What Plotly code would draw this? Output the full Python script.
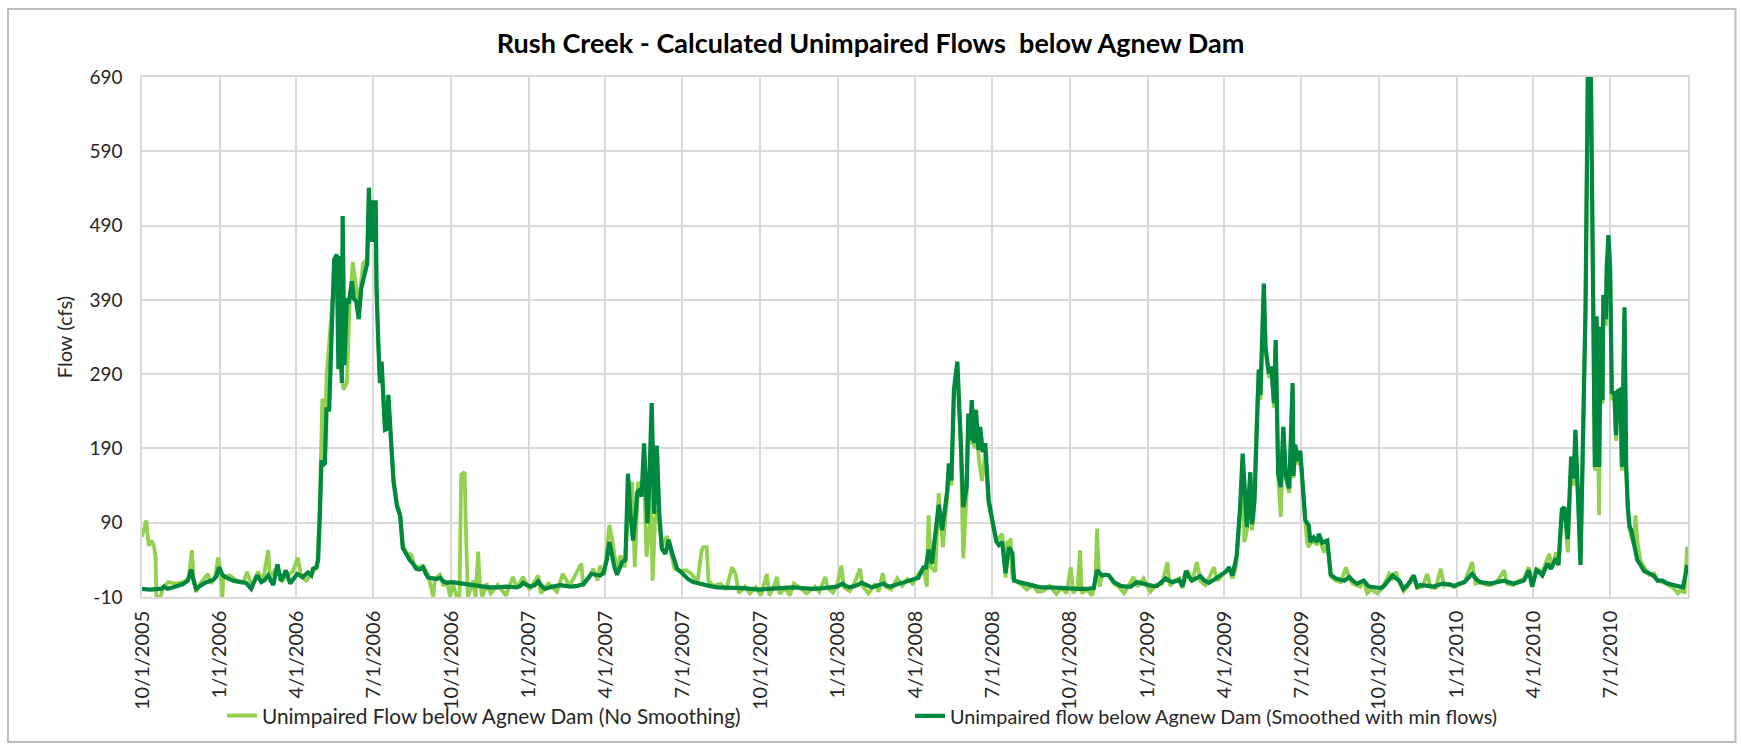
import pandas as pd
import plotly.graph_objects as go

# Day offsets are counted from the start of the 2006 water year (10/1/2005).
START = "2005-10-01"

# Smoothed series (with minimum flows), cfs
SMOOTH_DAYS = [
    0, 10, 20, 23, 26, 30, 37, 44, 48, 54, 58, 61, 64, 70, 76, 84, 88, 91, 95, 98,
    104, 108, 116, 123, 126, 129, 133, 136, 141, 145, 149, 152, 155, 160, 164, 167, 170, 175, 179, 183,
    190, 196, 200, 202, 206, 208, 210, 212, 214, 216, 218, 221, 224, 227, 230, 232, 234, 236, 237, 239,
    242, 244, 248, 250, 253, 256, 259, 263, 266, 268, 270, 272, 274, 276, 277, 279, 281, 283, 285, 287,
    289, 291, 294, 297, 301, 305, 308, 312, 316, 320, 324, 328, 332, 335, 338, 344, 348, 352, 356, 360,
    366, 372, 379, 387, 393, 399, 410, 419, 430, 443, 447, 450, 454, 458, 464, 468, 472, 476, 485, 494,
    500, 506, 514, 521, 526, 531, 536, 541, 545, 549, 552, 555, 558, 561, 564, 567, 571, 574, 577, 580,
    583, 585, 588, 590, 593, 595, 597, 599, 602, 605, 608, 611, 614, 618, 622, 626, 629, 632, 639, 645,
    651, 657, 663, 670, 679, 689, 699, 710, 720, 730, 740, 750, 760, 769, 780, 793, 805, 815, 821, 827,
    831, 836, 843, 850, 855, 862, 868, 876, 880, 884, 892, 898, 904, 910, 917, 923, 926, 929, 933, 937,
    941, 945, 948, 951, 953, 956, 959, 963, 967, 970, 974, 976, 978, 980, 983, 985, 988, 990, 993, 996,
    1000, 1006, 1009, 1012, 1016, 1020, 1024, 1028, 1030, 1036, 1045, 1053, 1061, 1073, 1085, 1093, 1105, 1116, 1124, 1128,
    1131, 1134, 1138, 1142, 1148, 1156, 1162, 1168, 1175, 1181, 1187, 1193, 1199, 1204, 1209, 1213, 1217, 1225, 1229, 1233,
    1236, 1240, 1245, 1250, 1255, 1260, 1267, 1274, 1280, 1284, 1288, 1293, 1297, 1300, 1303, 1305, 1309, 1311, 1314, 1317,
    1319, 1321, 1325, 1327, 1331, 1334, 1337, 1339, 1342, 1345, 1348, 1351, 1355, 1359, 1360, 1362, 1366, 1368, 1370, 1374,
    1378, 1380, 1384, 1388, 1390, 1394, 1400, 1404, 1410, 1415, 1420, 1426, 1430, 1435, 1443, 1449, 1456, 1463, 1467, 1471,
    1477, 1481, 1485, 1490, 1496, 1502, 1506, 1510, 1514, 1520, 1526, 1531, 1536, 1543, 1550, 1556, 1562, 1566, 1571, 1576,
    1581, 1587, 1593, 1600, 1609, 1614, 1620, 1626, 1632, 1635, 1638, 1642, 1647, 1650, 1654, 1660, 1664, 1670, 1673, 1677,
    1680, 1684, 1688, 1691, 1693, 1697, 1699, 1701, 1705, 1708, 1711, 1716, 1718, 1721, 1723, 1725, 1726, 1729, 1730, 1732,
    1734, 1736, 1739, 1741, 1743, 1746, 1748, 1751, 1753, 1755, 1757, 1759, 1762, 1764, 1766, 1770, 1774, 1780, 1786, 1790,
    1796, 1802, 1808, 1814, 1820, 1823, 1825,
]
SMOOTH_CFS = [
    1, 0, 1, 1, 4, 1, 3, 5, 7, 12, 27, 12, 1, 6, 10, 13, 18, 30, 20, 17,
    14, 12, 10, 9, 5, 1, 12, 19, 10, 13, 19, 12, 6, 34, 12, 18, 26, 8, 15, 21,
    17, 23, 19, 28, 30, 40, 99, 174, 168, 170, 245, 240, 345, 444, 451, 297, 449, 278, 503, 302,
    392, 385, 415, 392, 388, 364, 406, 425, 439, 541, 468, 524, 468, 524, 406, 335, 278, 307, 241, 215,
    216, 262, 203, 146, 113, 99, 56, 47, 40, 35, 28, 27, 30, 22, 16, 15, 14, 16, 11, 9,
    10, 9, 8, 6, 5, 4, 3, 3, 4, 3, 5, 9, 6, 4, 6, 11, 5, 1, 4, 6,
    5, 4, 5, 7, 14, 21, 20, 19, 22, 40, 64, 45, 30, 20, 28, 37, 40, 156, 100, 66,
    100, 131, 135, 125, 197, 140, 89, 138, 251, 102, 194, 102, 55, 48, 67, 50, 38, 28, 21, 14,
    10, 8, 7, 5, 3, 3, 3, 2, 1, 0, 1, 2, 2, 3, 2, 1, 2, 3, 4, 8,
    5, 3, 5, 9, 6, 3, 5, 8, 5, 4, 7, 9, 12, 13, 16, 30, 30, 54, 35, 75,
    114, 80, 110, 132, 170, 147, 269, 307, 201, 111, 138, 237, 201, 255, 197, 242, 188, 219, 185, 197,
    120, 84, 65, 60, 64, 22, 57, 49, 12, 10, 8, 5, 3, 3, 2, 1, 1, 1, 2, 26,
    22, 19, 20, 19, 10, 5, 4, 4, 10, 8, 7, 5, 5, 10, 15, 12, 10, 13, 4, 25,
    18, 12, 15, 18, 12, 9, 14, 19, 24, 30, 19, 46, 111, 183, 120, 84, 158, 88, 120, 260,
    296, 262, 412, 327, 291, 300, 251, 336, 156, 138, 219, 153, 136, 278, 153, 195, 173, 187, 152, 93,
    87, 64, 70, 64, 75, 63, 66, 20, 15, 14, 12, 17, 12, 8, 12, 4, 3, 2, 5, 10,
    19, 15, 12, 1, 8, 19, 4, 6, 6, 5, 4, 6, 8, 7, 5, 8, 10, 15, 21, 14,
    10, 9, 8, 10, 12, 10, 8, 10, 12, 18, 26, 4, 26, 24, 19, 35, 28, 42, 33, 108,
    111, 68, 179, 150, 215, 99, 33, 146, 382, 730, 730, 165, 368, 165, 354, 255, 397, 364, 434, 477,
    434, 264, 267, 208, 267, 269, 165, 380, 165, 110, 85, 80, 65, 55, 40, 33, 25, 22, 18, 12,
    12, 8, 6, 4, 3, 20, 33,
]

# Unsmoothed series, cfs
RAW_DAYS = [
    0, 3, 5, 8, 11, 14, 16, 17, 22, 25, 31, 40, 48, 55, 59, 61, 64, 70, 78, 81,
    86, 90, 93, 95, 96, 104, 112, 120, 124, 130, 137, 143, 149, 151, 160, 165, 171, 178, 184, 188,
    194, 202, 207, 210, 213, 216, 218, 222, 227, 230, 233, 236, 238, 242, 245, 249, 252, 256, 261, 266,
    268, 270, 272, 274, 276, 277, 279, 281, 283, 285, 287, 289, 291, 294, 297, 301, 305, 308, 312, 318,
    321, 324, 332, 338, 344, 346, 352, 356, 360, 364, 367, 372, 375, 377, 381, 383, 385, 391, 394, 397,
    399, 402, 407, 412, 420, 430, 438, 443, 450, 458, 468, 471, 480, 490, 497, 505, 511, 519, 521, 527,
    533, 538, 541, 546, 552, 555, 561, 565, 570, 575, 579, 582, 586, 590, 593, 596, 600, 601, 603, 606,
    609, 612, 614, 620, 624, 629, 636, 643, 649, 656, 661, 663, 667, 669, 675, 683, 690, 697, 701, 705,
    712, 718, 725, 731, 738, 741, 746, 750, 753, 760, 765, 770, 777, 785, 795, 800, 807, 810, 816, 821,
    826, 829, 836, 842, 848, 851, 858, 866, 870, 875, 878, 885, 892, 898, 904, 910, 917, 923, 927, 929,
    932, 937, 941, 946, 951, 953, 956, 959, 963, 967, 970, 974, 976, 978, 980, 983, 985, 988, 992, 996,
    1000, 1006, 1010, 1014, 1016, 1020, 1022, 1024, 1026, 1028, 1033, 1040, 1045, 1052, 1058, 1065, 1072, 1080, 1086, 1092,
    1097, 1100, 1105, 1108, 1110, 1116, 1122, 1126, 1128, 1131, 1134, 1142, 1148, 1154, 1160, 1165, 1171, 1176, 1183, 1187,
    1191, 1198, 1205, 1211, 1214, 1220, 1225, 1229, 1235, 1240, 1246, 1250, 1256, 1260, 1266, 1270, 1276, 1284, 1288, 1292,
    1297, 1300, 1302, 1305, 1309, 1311, 1313, 1317, 1319, 1321, 1325, 1327, 1331, 1334, 1337, 1339, 1342, 1345, 1348, 1351,
    1355, 1359, 1360, 1362, 1366, 1368, 1370, 1374, 1376, 1378, 1380, 1384, 1388, 1390, 1394, 1396, 1400, 1404, 1410, 1416,
    1422, 1426, 1430, 1435, 1439, 1443, 1447, 1452, 1459, 1465, 1473, 1477, 1481, 1485, 1490, 1496, 1502, 1506, 1512, 1518,
    1522, 1528, 1534, 1538, 1544, 1550, 1556, 1562, 1571, 1575, 1581, 1588, 1593, 1600, 1609, 1612, 1620, 1626, 1632, 1638,
    1642, 1647, 1654, 1660, 1662, 1666, 1670, 1673, 1677, 1680, 1684, 1688, 1691, 1693, 1697, 1699, 1701, 1705, 1708, 1711,
    1716, 1718, 1721, 1723, 1725, 1726, 1729, 1730, 1732, 1734, 1736, 1739, 1741, 1743, 1746, 1748, 1751, 1753, 1755, 1757,
    1759, 1762, 1764, 1766, 1770, 1774, 1780, 1786, 1790, 1796, 1802, 1808, 1814, 1818, 1822, 1825,
]
RAW_CFS = [
    71, 85, 93, 59, 66, 59, 45, -10, -10, 3, 10, 8, 10, 14, 53, 12, -3, 10, 21, 8,
    16, 43, 24, -10, 17, 19, 12, 10, 24, 4, 24, 12, 53, 17, 30, 10, 19, 24, 43, 17,
    12, 24, 30, 110, 257, 180, 288, 345, 420, 440, 300, 290, 269, 278, 380, 441, 414, 380, 439, 445,
    530, 470, 515, 470, 510, 410, 335, 285, 300, 245, 218, 220, 255, 205, 150, 118, 100, 60, 50, 47,
    35, 30, 32, 20, -10, 15, 20, 5, 12, -10, 8, -10, -10, 155, 158, 62, -10, 12, -10, 51,
    8, -10, 8, -5, 6, -8, 17, 2, 17, 0, 19, -5, 8, -3, 21, 5, 17, 35, 5, 15,
    28, 12, 32, 20, 87, 70, 24, 46, 30, 120, 145, 30, 145, 135, 150, 44, 89, 145, 12, 94,
    108, 74, 58, 72, 53, 28, 25, 26, 21, 10, 53, 57, 57, 12, 5, 8, 0, 30, 21, -5,
    4, -5, 3, -8, 21, -8, 3, 17, -6, 2, -8, 8, 2, -5, 4, -3, 17, 2, -4, 6,
    32, 3, -2, 10, 28, 5, -5, 8, -3, 22, 4, 0, 15, 5, 14, 8, 21, 30, 4, 100,
    30, 24, 130, 57, 125, 165, 140, 260, 300, 195, 42, 130, 225, 195, 245, 190, 235, 180, 146, 185,
    115, 80, 66, 71, 75, 16, 66, 55, 69, 15, 12, 5, 0, 6, -3, -2, 5, -6, 2, -5,
    30, -5, 4, 53, -5, 0, -8, 10, 82, 4, 20, 19, 8, 3, -5, 5, 17, 4, 15, 5,
    -3, 6, 8, 37, 5, 12, 15, 2, 26, 10, 37, 12, 6, 15, 30, 12, 20, 28, 15, 30,
    105, 175, 64, 80, 150, 80, 98, 245, 290, 255, 400, 320, 285, 295, 245, 330, 150, 98, 210, 150,
    130, 270, 150, 190, 168, 182, 148, 88, 64, 57, 62, 66, 60, 72, 56, 50, 64, 18, 12, 10,
    30, 15, 8, 5, 4, 12, -5, 0, -5, 2, 21, 15, 24, 10, -2, 6, 17, 2, 4, 21,
    3, 2, 28, 5, 8, 3, 6, 10, 37, 8, 10, 6, 6, 10, 26, 8, 6, 12, 14, 30,
    6, 28, 24, 45, 48, 30, 50, 33, 100, 111, 50, 170, 140, 205, 95, 40, 140, 375, 730, 730,
    160, 360, 100, 345, 250, 390, 355, 425, 470, 425, 258, 260, 200, 260, 262, 160, 370, 160, 105, 80,
    72, 60, 100, 66, 38, 30, 20, 22, 12, 10, 6, 3, -5, 0, -5, 58,
]

TICK_VALS = [
    "2005-10-01", "2006-01-01", "2006-04-01", "2006-07-01", "2006-10-01", "2007-01-01",
    "2007-04-01", "2007-07-01", "2007-10-01", "2008-01-01", "2008-04-01", "2008-07-01",
    "2008-10-01", "2009-01-01", "2009-04-01", "2009-07-01", "2009-10-01", "2010-01-01",
    "2010-04-01", "2010-07-01",
]
TICK_TEXT = [
    "10/1/2005", "1/1/2006", "4/1/2006", "7/1/2006", "10/1/2006", "1/1/2007",
    "4/1/2007", "7/1/2007", "10/1/2007", "1/1/2008", "4/1/2008", "7/1/2008",
    "10/1/2008", "1/1/2009", "4/1/2009", "7/1/2009", "10/1/2009", "1/1/2010",
    "4/1/2010", "7/1/2010",
]
Y_TICKS = [-10, 90, 190, 290, 390, 490, 590, 690]

RAW_NAME = "Unimpaired Flow below Agnew Dam (No Smoothing)"
SMOOTH_NAME = "Unimpaired flow below Agnew Dam (Smoothed with min flows)"

start = pd.Timestamp(START)
raw_dates = start + pd.to_timedelta(RAW_DAYS, unit="D")
smooth_dates = start + pd.to_timedelta(SMOOTH_DAYS, unit="D")

W, H = 1741, 745
ML, MR, MT, MB = 142, 53, 77, 148
PW, PH = W - ML - MR, H - MT - MB

def px_x(px):
    return (px - ML) / PW

def px_y(py):
    return (H - MB - py) / PH

FONT = "Lato"
GRID = "#d9d9d9"

fig = go.Figure()
fig.add_trace(go.Scatter(
    x=raw_dates, y=RAW_CFS, mode="lines", name=RAW_NAME,
    line=dict(color="#92D050", width=3.8), legend="legend", showlegend=True,
))
fig.add_trace(go.Scatter(
    x=smooth_dates, y=SMOOTH_CFS, mode="lines", name=SMOOTH_NAME,
    line=dict(color="#00893E", width=4.2), legend="legend2", showlegend=True,
))

legend_common = dict(
    orientation="h", yanchor="middle", xanchor="left",
    bgcolor="rgba(0,0,0,0)", borderwidth=0, visible=True,
)

fig.update_layout(
    width=W, height=H,
    showlegend=True,
    margin=dict(l=ML, r=MR, t=MT, b=MB, autoexpand=False),
    paper_bgcolor="white", plot_bgcolor="white",
    font=dict(family=FONT, color="#262626"),
    title=dict(
        text="<b>Rush Creek - Calculated Unimpaired Flows\u00a0 below Agnew Dam</b>",
        x=0.5, xanchor="center", xref="container", y=1 - 44 / H, yanchor="middle",
        font=dict(family=FONT, size=27, color="#000000"),
    ),
    legend=dict(x=px_x(222), y=px_y(716), font=dict(family=FONT, size=20.8, color="#262626"),
                **legend_common),
    legend2=dict(x=px_x(910), y=px_y(716), font=dict(family=FONT, size=19.8, color="#262626"),
                 **legend_common),
    xaxis=dict(
        type="date", range=["2005-10-01", "2010-10-01"],
        tickmode="array", tickvals=TICK_VALS, ticktext=TICK_TEXT, tickangle=-90,
        tickfont=dict(family=FONT, size=20, color="#262626"),
        showgrid=True, gridcolor=GRID, gridwidth=1.5,
        showline=True, linecolor=GRID, linewidth=1.5, mirror=True,
        ticks="", zeroline=False, ticklabelstandoff=4,
    ),
    yaxis=dict(
        range=[-10, 690], tickmode="array", tickvals=Y_TICKS,
        ticktext=[str(v) for v in Y_TICKS],
        tickfont=dict(family=FONT, size=19, color="#262626"),
        showgrid=True, gridcolor=GRID, gridwidth=1.5,
        showline=True, linecolor=GRID, linewidth=1.5, mirror=True,
        ticks="", zeroline=False, ticklabelstandoff=14,
        title=dict(text="Flow (cfs)", font=dict(family=FONT, size=20, color="#262626"), standoff=11),
    ),
    shapes=[dict(
        type="rect", xref="paper", yref="paper",
        x0=px_x(8), x1=px_x(1735.5), y0=px_y(742), y1=px_y(9),
        line=dict(color="#bfbfbf", width=2), fillcolor="rgba(0,0,0,0)", layer="below",
    )],
)

fig.write_html("out.html")
